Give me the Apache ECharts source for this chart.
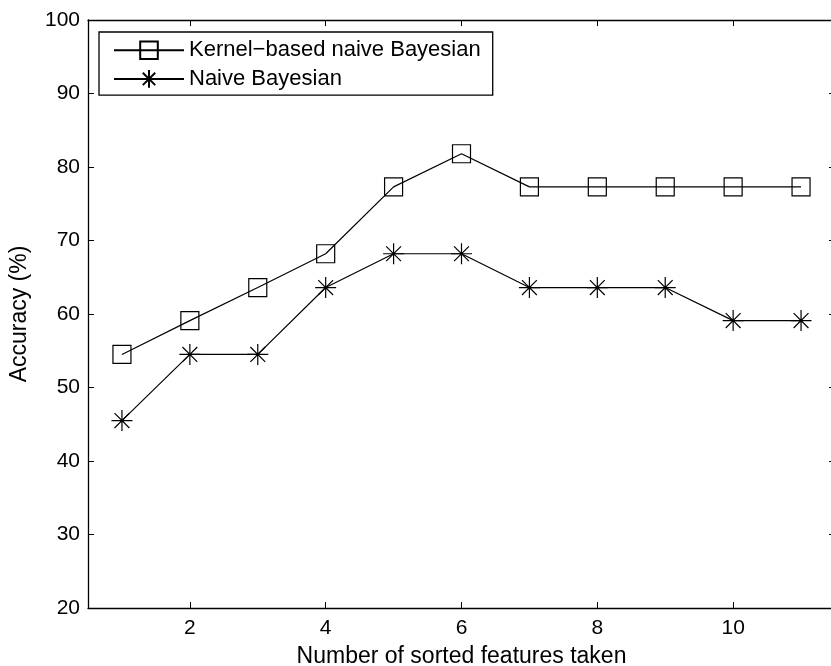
<!DOCTYPE html>
<html>
<head>
<meta charset="utf-8">
<script src="https://cdn.jsdelivr.net/npm/echarts@6/dist/echarts.min.js"></script>
<style>
  html, body { margin: 0; padding: 0; background: #fff; }
  #chart { width: 831px; height: 666px; }
</style>
</head>
<body>
<div id="chart"></div>
<script>
// number of sorted features taken
const features = [1, 2, 3, 4, 5, 6, 7, 8, 9, 10, 11]
const kernelAcc = [54.5, 59.1, 63.6, 68.2, 77.3, 81.8, 77.3, 77.3, 77.3, 77.3, 77.3]
const naiveAcc = [45.5, 54.5, 54.5, 63.6, 68.2, 68.2, 63.6, 63.6, 63.6, 59.1, 59.1]
const xTicks = [2, 4, 6, 8, 10]

const font = 'Liberation Sans, Arial, Helvetica, sans-serif'
const star = 'path://M0,10L20,10M10,0L10,20M2.93,2.93L17.07,17.07M17.07,2.93L2.93,17.07'

const pairs = (ys) => features.map((x, i) => [x, ys[i]])

const chart = echarts.init(document.getElementById('chart'))

const baseX = {
  type: 'value',
  min: 0.5,
  max: 11.5,
  splitLine: { show: false },
  axisLine: { lineStyle: { color: '#000', width: 1.3 } },
  axisTick: { inside: true, length: 6, customValues: xTicks, lineStyle: { color: '#000' } }
}
const baseY = {
  type: 'value',
  min: 20,
  max: 100,
  interval: 10,
  splitLine: { show: false },
  axisLine: { lineStyle: { color: '#000', width: 1.3 } },
  axisTick: { inside: true, length: 6, lineStyle: { color: '#000' } }
}

chart.setOption({
  animation: false,
  textStyle: { fontFamily: font },
  grid: { left: 88, top: 20, width: 747, height: 588, outerBoundsMode: 'none', containLabel: false },
  xAxis: [
    Object.assign({}, baseX, {
      position: 'bottom',
      name: 'Number of sorted features taken',
      nameLocation: 'middle',
      nameGap: 37,
      nameTextStyle: { fontSize: 23, color: '#000', fontFamily: font },
      axisLabel: { customValues: xTicks, fontSize: 21, color: '#000', margin: 10, fontFamily: font }
    }),
    Object.assign({}, baseX, {
      position: 'top',
      axisLabel: { show: false }
    })
  ],
  yAxis: [
    Object.assign({}, baseY, {
      position: 'left',
      name: 'Accuracy (%)',
      nameLocation: 'middle',
      nameGap: 57,
      nameTextStyle: { fontSize: 23, color: '#000', fontFamily: font },
      axisLabel: { fontSize: 21, color: '#000', margin: 8, fontFamily: font }
    }),
    Object.assign({}, baseY, {
      position: 'right',
      axisLabel: { show: false }
    })
  ],
  legend: {
    orient: 'vertical',
    left: 99,
    top: 32,
    padding: [7, 12, 5, 14],
    itemGap: 6,
    itemWidth: 70,
    itemHeight: 22,
    borderColor: '#000',
    borderWidth: 1.3,
    backgroundColor: '#fff',
    textStyle: { fontSize: 22, color: '#000', fontFamily: font },
    data: ['Kernel\u2212based naive Bayesian', 'Naive Bayesian']
  },
  series: [
    {
      name: 'Kernel\u2212based naive Bayesian',
      type: 'line',
      data: pairs(kernelAcc),
      symbol: 'rect',
      symbolSize: 18,
      lineStyle: { color: '#000', width: 1.2 },
      itemStyle: { color: 'none', borderColor: '#000', borderWidth: 1.2 }
    },
    {
      name: 'Naive Bayesian',
      type: 'line',
      data: pairs(naiveAcc),
      symbol: star,
      symbolSize: 21,
      lineStyle: { color: '#000', width: 1.2 },
      itemStyle: { color: 'none', borderColor: '#000', borderWidth: 1.2 }
    }
  ]
})
</script>
</body>
</html>
